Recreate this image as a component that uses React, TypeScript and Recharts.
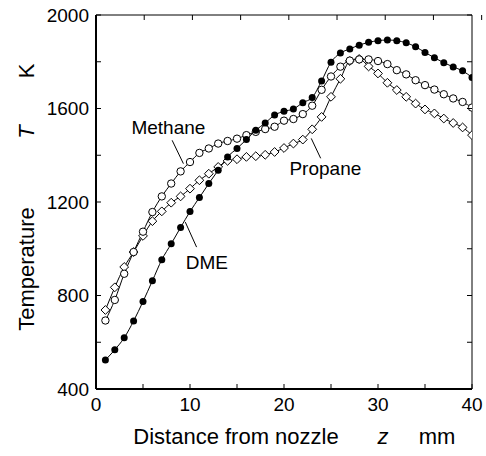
import React from "react"
import { LineChart, Line, XAxis, YAxis, ReferenceLine, ReferenceDot } from "recharts"

// axial distance from the nozzle, mm
const distance = [
  1, 2, 3, 4, 5, 6, 7, 8, 9, 10, 11, 12, 13, 14, 15, 16, 17, 18, 19, 20,
  21, 22, 23, 24, 25, 26, 27, 28, 29, 30, 31, 32, 33, 34, 35, 36, 37, 38, 39, 40,
]

// flame temperature, K
const dmeTemp = [
  524, 568, 619, 691, 774, 863, 953, 1021, 1091, 1159, 1219, 1279, 1336, 1393, 1429, 1467, 1507, 1538, 1572, 1588,
  1598, 1625, 1647, 1718, 1798, 1837, 1855, 1871, 1883, 1890, 1893, 1890, 1881, 1864, 1840, 1817, 1796, 1778, 1761, 1733,
]
const methaneTemp = [
  693, 781, 893, 986, 1073, 1157, 1224, 1279, 1331, 1371, 1410, 1429, 1450, 1461, 1471, 1486, 1500, 1512, 1522, 1548,
  1555, 1576, 1612, 1680, 1737, 1779, 1805, 1810, 1810, 1803, 1790, 1764, 1746, 1721, 1700, 1681, 1661, 1643, 1628, 1604,
]
const propaneTemp = [
  738, 835, 922, 986, 1055, 1118, 1160, 1197, 1224, 1257, 1293, 1321, 1350, 1376, 1383, 1393, 1396, 1402, 1414, 1431,
  1450, 1467, 1511, 1564, 1650, 1727, 1803, 1812, 1780, 1750, 1710, 1679, 1650, 1621, 1596, 1579, 1557, 1538, 1519, 1486,
]

const xTicks = [0, 5, 10, 15, 20, 25, 30, 35, 40]
const yTicks = [400, 600, 800, 1000, 1200, 1400, 1600, 1800, 2000]

const rows = distance.map((z, i) => ({
  z,
  dme: dmeTemp[i],
  methane: methaneTemp[i],
  propane: propaneTemp[i],
}))

const FONT = "'Liberation Sans', Arial, sans-serif"
const TICK_LEN = 5

const BottomTick = ({ x, y, payload }: any) => (
  <g>
    <line x1={x} y1={y} x2={x} y2={y - TICK_LEN} stroke="#000" strokeWidth={1} />
    {payload.value % 10 === 0 && (
      <text x={x} y={y + 22} textAnchor="middle" fontSize={19} fontFamily={FONT} fill="#000">
        {payload.value}
      </text>
    )}
  </g>
)

const TopTick = ({ x, y }: any) => (
  <line x1={x} y1={y} x2={x} y2={y + TICK_LEN} stroke="#000" strokeWidth={1} />
)

const LeftTick = ({ x, y, payload }: any) => (
  <g>
    <line x1={x} y1={y} x2={x + TICK_LEN} y2={y} stroke="#000" strokeWidth={1} />
    {payload.value % 400 === 0 && (
      <text x={x - 7} y={y} dy="0.36em" textAnchor="end" fontSize={19} fontFamily={FONT} fill="#000">
        {payload.value}
      </text>
    )}
  </g>
)

const RightTick = ({ x, y }: any) => (
  <line x1={x} y1={y} x2={x - TICK_LEN} y2={y} stroke="#000" strokeWidth={1} />
)

const filledDot = (p: any) => <circle key={`d-${p.index}`} cx={p.cx} cy={p.cy} r={3.5} fill="#000" />
const openDot = (p: any) => (
  <circle key={`m-${p.index}`} cx={p.cx} cy={p.cy} r={3.7} fill="#fff" stroke="#000" strokeWidth={1} />
)
const diamondDot = (p: any) => {
  const s = 4.4
  return (
    <path
      key={`p-${p.index}`}
      d={`M${p.cx},${p.cy - s} L${p.cx + s},${p.cy} L${p.cx},${p.cy + s} L${p.cx - s},${p.cy} Z`}
      fill="#fff"
      stroke="#000"
      strokeWidth={1}
    />
  )
}

const XTitle = () => (
  <g fontFamily={FONT} fontSize={22} fill="#000">
    <text x={236} y={444} textAnchor="middle">Distance from nozzle</text>
    <text x={383} y={444} textAnchor="middle" fontStyle="italic">z</text>
    <text x={437} y={444} textAnchor="middle">mm</text>
  </g>
)

const YTitle = () => (
  <g fontFamily={FONT} fontSize={22} fill="#000">
    <text x={34} y={269} textAnchor="middle" transform="rotate(-90 34 269)">Temperature</text>
    <text x={34} y={132} textAnchor="middle" fontStyle="italic" transform="rotate(-90 34 132)">T</text>
    <text x={34} y={71} textAnchor="middle" transform="rotate(-90 34 71)">K</text>
  </g>
)

const callout = (label: string) => (p: any) => (
  <text x={p.cx} y={p.cy} dy="0.36em" textAnchor="middle" fontSize={19} fontFamily={FONT} fill="#000">
    {label}
  </text>
)

export default function App() {
  return (
    <div style={{ position: "absolute", left: 0, top: 0, width: 486, height: 456, background: "#fff" }}>
      <LineChart width={486} height={456} data={rows} margin={{ top: 14, right: 13, bottom: 66, left: 95 }}>
        <XAxis
          xAxisId="b"
          dataKey="z"
          type="number"
          domain={[0, 40]}
          ticks={xTicks}
          allowDataOverflow
          height={1}
          tickSize={0}
          tickMargin={0}
          tickLine={false}
          tick={<BottomTick />}
          axisLine={{ stroke: "#000", strokeWidth: 2 }}
          interval={0}
          label={{ content: () => <XTitle /> }}
        />
        <XAxis
          xAxisId="t"
          orientation="top"
          type="number"
          domain={[0, 40]}
          ticks={xTicks}
          allowDataOverflow
          height={1}
          tickSize={0}
          tickMargin={0}
          tickLine={false}
          tick={<TopTick />}
          axisLine={{ stroke: "#000", strokeWidth: 1 }}
          interval={0}
        />
        <YAxis
          yAxisId="l"
          type="number"
          domain={[400, 2000]}
          ticks={yTicks}
          allowDataOverflow
          width={1}
          tickSize={0}
          tickMargin={0}
          tickLine={false}
          tick={<LeftTick />}
          axisLine={{ stroke: "#000", strokeWidth: 2 }}
          interval={0}
          label={{ content: () => <YTitle /> }}
        />
        <YAxis
          yAxisId="r"
          orientation="right"
          type="number"
          domain={[400, 2000]}
          ticks={yTicks}
          allowDataOverflow
          width={1}
          tickSize={0}
          tickMargin={0}
          tickLine={false}
          tick={<RightTick />}
          axisLine={{ stroke: "#000", strokeWidth: 1 }}
          interval={0}
        />

        <Line
          xAxisId="b"
          yAxisId="l"
          dataKey="propane"
          type="monotone"
          stroke="#000"
          strokeWidth={1}
          dot={diamondDot}
          activeDot={false}
          isAnimationActive={false}
        />
        <Line
          xAxisId="b"
          yAxisId="l"
          dataKey="methane"
          type="monotone"
          stroke="#000"
          strokeWidth={1}
          dot={openDot}
          activeDot={false}
          isAnimationActive={false}
        />
        <Line
          xAxisId="b"
          yAxisId="l"
          dataKey="dme"
          type="monotone"
          stroke="#000"
          strokeWidth={1}
          dot={filledDot}
          activeDot={false}
          isAnimationActive={false}
        />

        {/* leader lines for the curve names */}
        <ReferenceLine xAxisId="b" yAxisId="l" segment={[{ x: 8.1, y: 1464 }, { x: 9.3, y: 1364 }]} stroke="#000" strokeWidth={1} />
        <ReferenceLine xAxisId="b" yAxisId="l" segment={[{ x: 23.9, y: 1387 }, { x: 22.9, y: 1472 }]} stroke="#000" strokeWidth={1} />
        <ReferenceLine xAxisId="b" yAxisId="l" segment={[{ x: 10.7, y: 1007 }, { x: 9.5, y: 1114 }]} stroke="#000" strokeWidth={1} />
        <ReferenceDot xAxisId="b" yAxisId="l" x={7.7} y={1520} shape={callout("Methane")} />
        <ReferenceDot xAxisId="b" yAxisId="l" x={24.4} y={1344} shape={callout("Propane")} />
        <ReferenceDot xAxisId="b" yAxisId="l" x={11.8} y={941} shape={callout("DME")} />
      </LineChart>
    </div>
  )
}
